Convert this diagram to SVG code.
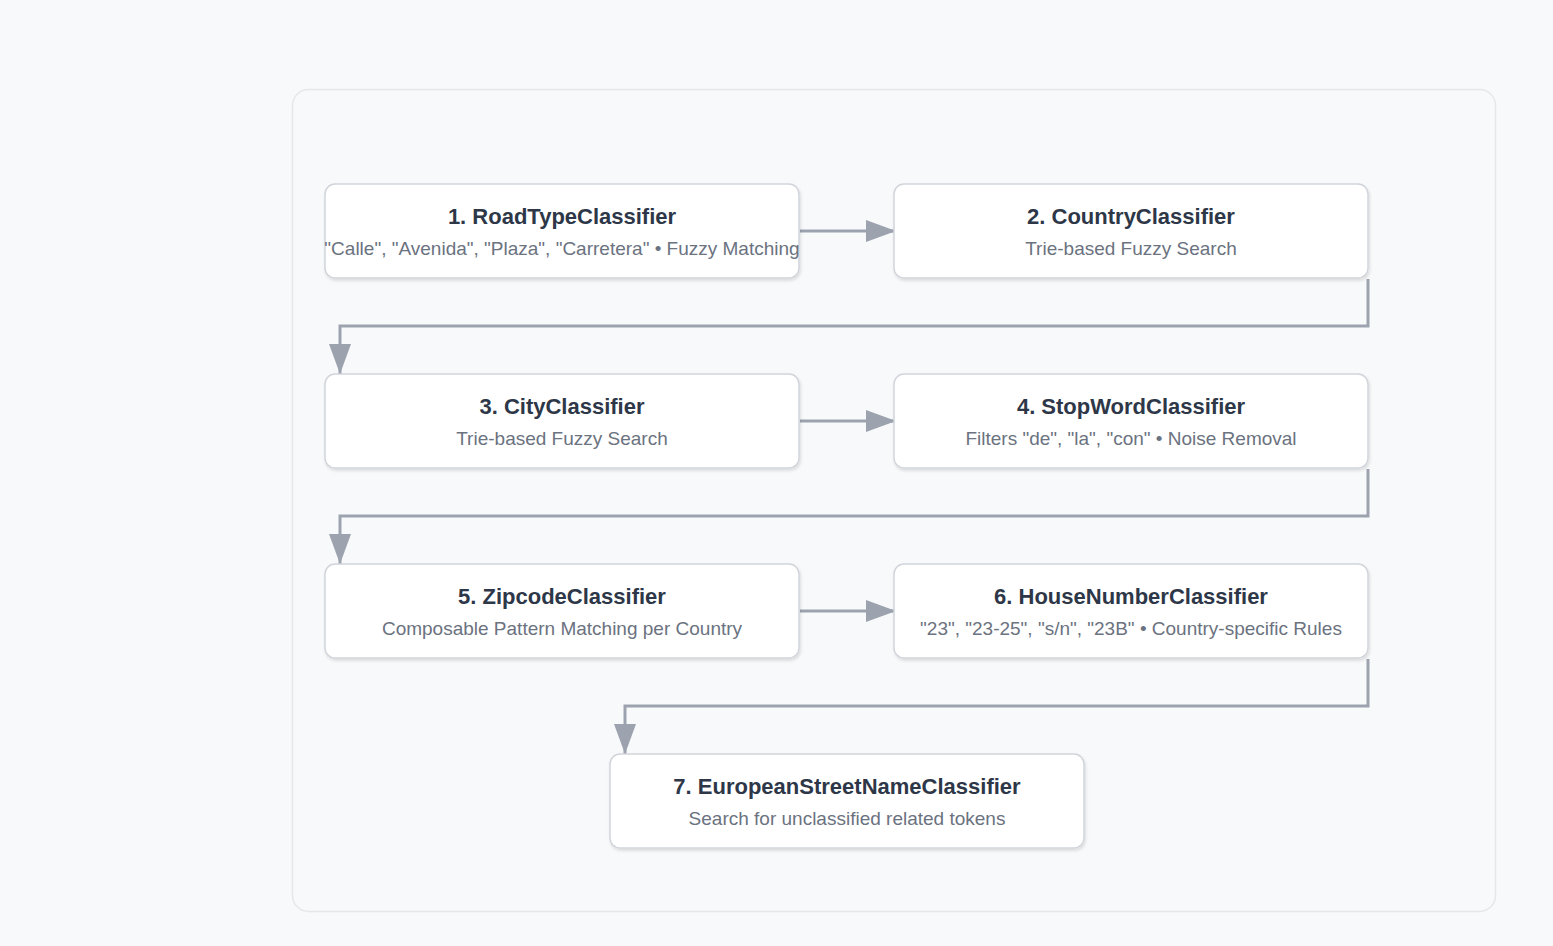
<svg xmlns="http://www.w3.org/2000/svg" width="1553" height="946" viewBox="0 0 1553 946">
<defs>
<style>
.node rect{fill:#ffffff;stroke:#d1d5db;stroke-width:1.5;filter:url(#sh)}
.t{font-family:"Liberation Sans",Arial,sans-serif;font-size:22px;font-weight:bold;fill:#2d3748;text-anchor:middle}
.s{font-family:"Liberation Sans",Arial,sans-serif;font-size:19px;fill:#6b7280;text-anchor:middle}
.c{fill:none;stroke:#9ca3af;stroke-width:3;marker-end:url(#ah)}
</style>
<filter id="sh" x="-5%" y="-10%" width="110%" height="130%">
<feDropShadow dx="1" dy="2" stdDeviation="1.5" flood-color="#000" flood-opacity="0.12"/>
</filter>
<marker id="ah" markerUnits="userSpaceOnUse" markerWidth="32" markerHeight="24" refX="30" refY="11" orient="auto">
<path d="M0,0 L30,11 L0,22 Z" fill="#9ca3af"/>
</marker>
</defs>
<rect width="1553" height="946" fill="#f8f9fa"/>
<rect x="292.5" y="89.5" width="1203" height="822" rx="16" fill="#f8f9fa" stroke="#e5e7eb" stroke-width="1.5"/>
<g id="connectors">
<path class="c" d="M800,231 L896,231"/>
<path class="c" d="M1368,279 V326 H340 V374"/>
<path class="c" d="M800,421 L896,421"/>
<path class="c" d="M1368,469 V516 H340 V564"/>
<path class="c" d="M800,611 L896,611"/>
<path class="c" d="M1368,659 V706 H625 V754"/>
</g>
<g id="n1" class="node"><rect x="325" y="184" width="474" height="94" rx="10"/><text class="t" x="562" y="224">1. RoadTypeClassifier</text><text class="s" x="562" y="255">"Calle", "Avenida", "Plaza", "Carretera" • Fuzzy Matching</text></g>
<g id="n2" class="node"><rect x="894" y="184" width="474" height="94" rx="10"/><text class="t" x="1131" y="224">2. CountryClassifier</text><text class="s" x="1131" y="255">Trie-based Fuzzy Search</text></g>
<g id="n3" class="node"><rect x="325" y="374" width="474" height="94" rx="10"/><text class="t" x="562" y="414">3. CityClassifier</text><text class="s" x="562" y="445">Trie-based Fuzzy Search</text></g>
<g id="n4" class="node"><rect x="894" y="374" width="474" height="94" rx="10"/><text class="t" x="1131" y="414">4. StopWordClassifier</text><text class="s" x="1131" y="445">Filters "de", "la", "con" • Noise Removal</text></g>
<g id="n5" class="node"><rect x="325" y="564" width="474" height="94" rx="10"/><text class="t" x="562" y="604">5. ZipcodeClassifier</text><text class="s" x="562" y="635">Composable Pattern Matching per Country</text></g>
<g id="n6" class="node"><rect x="894" y="564" width="474" height="94" rx="10"/><text class="t" x="1131" y="604">6. HouseNumberClassifier</text><text class="s" x="1131" y="635">"23", "23-25", "s/n", "23B" • Country-specific Rules</text></g>
<g id="n7" class="node"><rect x="610" y="754" width="474" height="94" rx="10"/><text class="t" x="847" y="794">7. EuropeanStreetNameClassifier</text><text class="s" x="847" y="825">Search for unclassified related tokens</text></g>
</svg>
